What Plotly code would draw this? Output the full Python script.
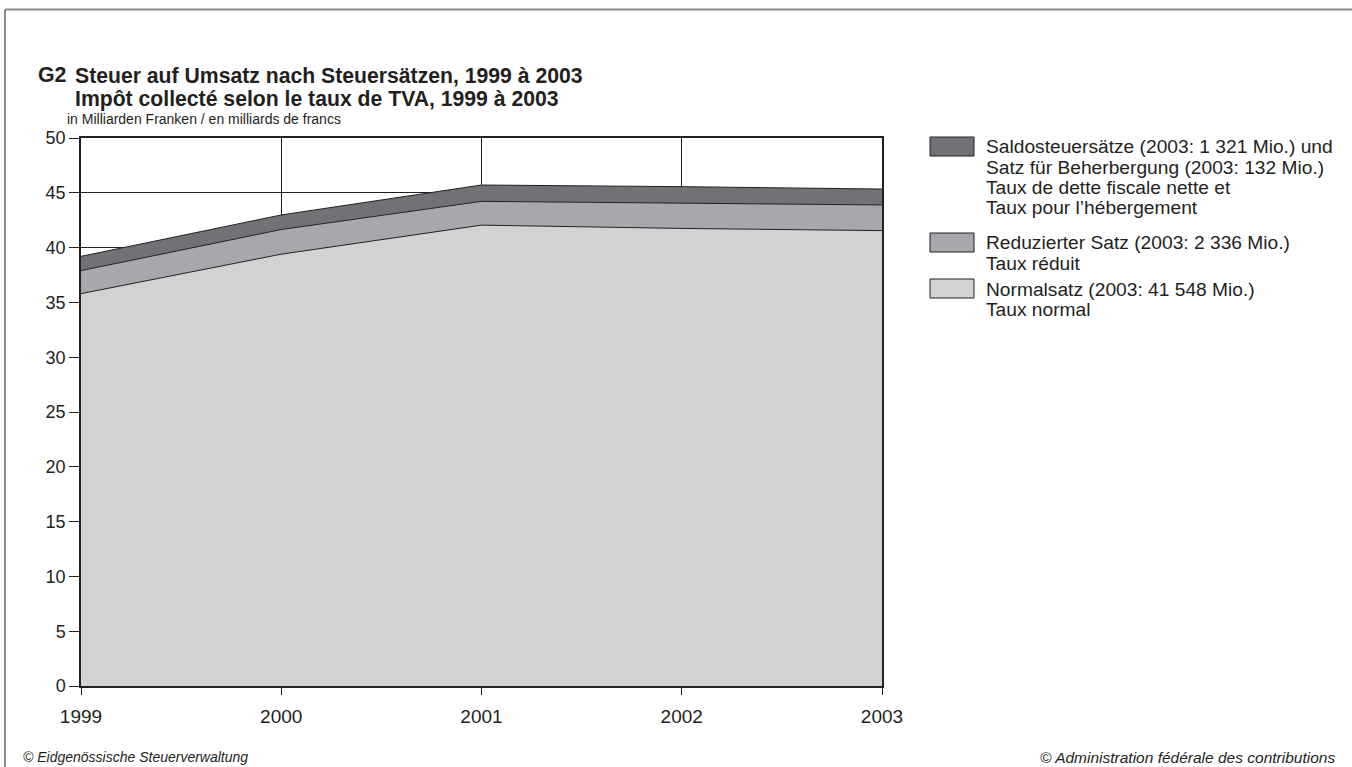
import plotly.graph_objects as go

years = [1999, 2000, 2001, 2002, 2003]
normal = [35.8, 39.4, 42.05, 41.75, 41.55]
reduced = [2.1, 2.25, 2.17, 2.32, 2.34]
saldo = [1.3, 1.33, 1.49, 1.49, 1.45]

series_names = ["Normalsatz", "Reduzierter Satz", "Saldosteuersätze"]
legend_lines = [
    ["Saldosteuersätze (2003: 1 321 Mio.) und", "Satz für Beherbergung (2003: 132 Mio.)",
     "Taux de dette fiscale nette et", "Taux pour l’hébergement"],
    ["Reduzierter Satz (2003: 2 336 Mio.)", "Taux réduit"],
    ["Normalsatz (2003: 41 548 Mio.)", "Taux normal"],
]
title_lines = ["Steuer auf Umsatz nach Steuersätzen, 1999 à 2003",
               "Impôt collecté selon le taux de TVA, 1999 à 2003"]
yticks = [0, 5, 10, 15, 20, 25, 30, 35, 40, 45, 50]

c_normal = "#d1d2d4"
c_reduced = "#a7a8ab"
c_saldo = "#717276"
c_line = "#231f20"
FONT = "Liberation Sans, Arial, sans-serif"

W, H = 1352, 767
L, R, T, B = 81, 882, 138, 686

def px(x):
    return (x - L) / (R - L)

def py(y):
    return (B - y) / (B - T)

fig = go.Figure()
for vals, name, col in [(normal, series_names[0], c_normal),
                        (reduced, series_names[1], c_reduced),
                        (saldo, series_names[2], c_saldo)]:
    fig.add_trace(go.Scatter(
        x=years, y=vals, name=name, stackgroup="one", mode="lines",
        line=dict(color=c_line, width=1), fillcolor=col, showlegend=False,
    ))

shapes = []
annotations = []

def text(x, y, s, size, anchor="left", bold=False, italic=False):
    if bold:
        s = "<b>" + s + "</b>"
    if italic:
        s = "<i>" + s + "</i>"
    annotations.append(dict(xref="paper", yref="paper", x=px(x), y=py(y), xanchor=anchor, yanchor="middle",
                            text=s, showarrow=False, font=dict(family=FONT, size=size, color="#231f20")))

# outer border (top and left)
shapes.append(dict(type="line", xref="paper", yref="paper", x0=px(5), x1=px(1352), y0=py(9.5), y1=py(9.5),
                   line=dict(color="#8a8a8a", width=2)))
shapes.append(dict(type="line", xref="paper", yref="paper", x0=px(5), x1=px(5), y0=py(9.5), y1=py(767),
                   line=dict(color="#8a8a8a", width=2)))

# custom legend
leg = [(137, c_saldo, legend_lines[0]), (233, c_reduced, legend_lines[1]), (279, c_normal, legend_lines[2])]
for top, col, lines in leg:
    shapes.append(dict(type="rect", xref="paper", yref="paper", x0=px(930), x1=px(974), y0=py(top + 19), y1=py(top),
                       fillcolor=col, line=dict(color=c_line, width=1)))
    for i, ln in enumerate(lines):
        text(984, top + 10 + i * 20.3, ln, 19.2)

# titles
text(36, 75, "G2", 21.3, bold=True)
text(73, 75, title_lines[0], 21.2, bold=True)
text(73, 99, title_lines[1], 21.2, bold=True)
text(65, 119, "in Milliarden Franken / en milliards de francs", 14)
text(21, 757, "© Eidgenössische Steuerverwaltung", 14, italic=True)
text(1337, 757, "© Administration fédérale des contributions", 15.5, anchor="right", italic=True)

fig.update_layout(
    width=W, height=H,
    margin=dict(l=L, r=W - R, t=T, b=H - B, pad=0),
    paper_bgcolor="white", plot_bgcolor="white",
    font=dict(family=FONT, size=17, color="#231f20"),
    shapes=shapes, annotations=annotations,
    xaxis=dict(range=[1999, 2003], tickmode="array", tickvals=years, ticktext=[str(y) for y in years],
               showgrid=True, gridcolor=c_line, gridwidth=1, showline=True, linecolor=c_line, linewidth=1.5,
               mirror=True, ticks="outside", ticklen=7, tickcolor=c_line, zeroline=False,
               ticklabelstandoff=5,
               tickfont=dict(family=FONT, size=19, color="#231f20")),
    yaxis=dict(range=[0, 50], tickmode="array", tickvals=yticks, ticktext=[str(v) for v in yticks],
               showgrid=True, gridcolor=c_line, gridwidth=1, showline=True, linecolor=c_line, linewidth=1.5,
               mirror=True, ticks="outside", ticklen=10, tickcolor=c_line, zeroline=False,
               tickfont=dict(family=FONT, size=18, color="#231f20")),
)

fig.write_html("out.html", config={"displayModeBar": False},
               post_script="document.body.style.margin='0';document.body.style.overflow='hidden';")
